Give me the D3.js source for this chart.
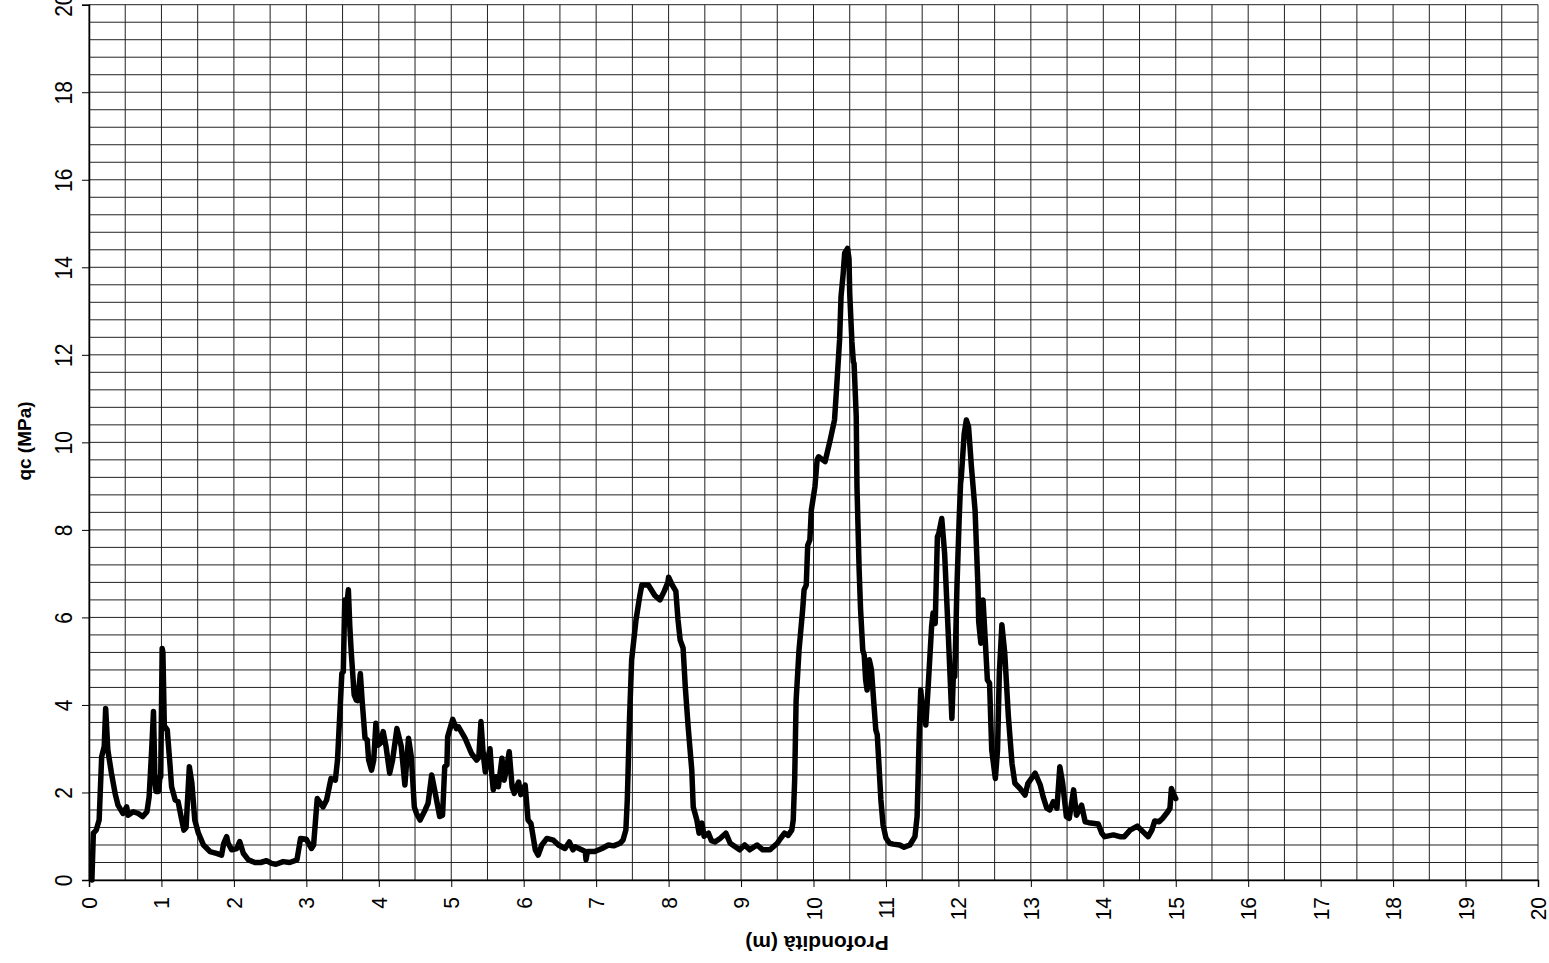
<!DOCTYPE html>
<html>
<head>
<meta charset="utf-8">
<script src="https://cdn.jsdelivr.net/npm/d3@7"></script>
<style>
  body{margin:0;background:#fff;}
  svg{display:block;}
</style>
</head>
<body>
<svg></svg>
<script>
// CPT trace: depth (m) and cone resistance qc (MPa)
var depth = [0.04,0.06,0.10,0.14,0.175,0.21,0.23,0.26,0.31,0.36,0.40,0.47,0.52,0.54,0.61,0.68,0.74,0.80,0.83,0.865,
  0.89,0.91,0.925,0.96,0.98,0.99,1.01,1.02,1.04,1.05,1.08,1.12,1.14,1.19,1.23,1.28,1.31,1.34,1.385,1.42,
  1.46,1.51,1.58,1.67,1.76,1.83,1.86,1.90,1.92,1.97,2.04,2.08,2.13,2.20,2.29,2.37,2.45,2.52,2.58,2.68,
  2.77,2.87,2.92,3.00,3.07,3.10,3.15,3.23,3.28,3.34,3.40,3.43,3.46,3.49,3.51,3.53,3.56,3.58,3.60,3.62,
  3.66,3.69,3.71,3.745,3.77,3.81,3.84,3.86,3.90,3.93,3.96,3.99,4.02,4.06,4.10,4.15,4.19,4.25,4.31,4.36,
  4.41,4.45,4.49,4.52,4.57,4.64,4.68,4.73,4.78,4.84,4.88,4.91,4.94,4.95,5.02,5.07,5.10,5.19,5.28,5.35,
  5.38,5.41,5.44,5.47,5.50,5.535,5.56,5.58,5.62,5.65,5.70,5.73,5.76,5.80,5.84,5.87,5.93,5.96,6.02,6.06,
  6.10,6.16,6.20,6.25,6.32,6.41,6.48,6.57,6.63,6.68,6.71,6.80,6.85,6.86,6.88,6.98,7.08,7.17,7.24,7.33,
  7.37,7.41,7.43,7.46,7.49,7.55,7.60,7.63,7.72,7.81,7.88,7.94,7.99,8.00,8.05,8.10,8.13,8.16,8.20,8.23,
  8.27,8.32,8.34,8.39,8.42,8.46,8.49,8.55,8.59,8.64,8.71,8.79,8.85,8.92,8.98,9.05,9.12,9.22,9.30,9.40,
  9.50,9.55,9.60,9.65,9.70,9.72,9.74,9.76,9.80,9.85,9.87,9.90,9.92,9.95,9.97,10.02,10.05,10.07,10.16,10.23,
  10.29,10.32,10.36,10.38,10.41,10.43,10.47,10.49,10.50,10.53,10.55,10.56,10.59,10.60,10.63,10.65,10.68,10.70,10.72,10.74,
  10.77,10.80,10.83,10.86,10.88,10.90,10.93,10.96,11.00,11.05,11.10,11.19,11.25,11.33,11.40,11.43,11.46,11.48,11.50,11.55,
  11.58,11.63,11.65,11.68,11.71,11.73,11.77,11.81,11.86,11.91,11.93,11.95,11.98,12.01,12.03,12.04,12.08,12.11,12.14,12.18,
  12.23,12.27,12.28,12.31,12.34,12.37,12.40,12.43,12.46,12.51,12.54,12.565,12.60,12.64,12.69,12.74,12.78,12.85,12.92,12.96,
  13.06,13.13,13.17,13.22,13.26,13.31,13.36,13.40,13.44,13.49,13.53,13.59,13.63,13.70,13.75,13.80,13.93,13.98,14.02,14.14,
  14.23,14.29,14.37,14.47,14.55,14.62,14.67,14.71,14.77,14.82,14.89,14.92,14.94,14.96,15.00];
var qc = [0,1.07,1.14,1.37,2.82,3.05,3.92,2.97,2.44,1.98,1.71,1.52,1.67,1.48,1.56,1.52,1.45,1.56,1.90,2.97,
  3.85,2.28,2.02,2.02,2.36,2.36,5.29,5.20,3.50,3.50,3.43,2.59,2.13,1.83,1.79,1.37,1.14,1.20,2.59,2.21,
  1.37,1.07,0.80,0.65,0.61,0.57,0.84,0.99,0.84,0.69,0.72,0.88,0.61,0.46,0.40,0.40,0.44,0.38,0.36,0.42,
  0.40,0.46,0.95,0.93,0.72,0.80,1.86,1.67,1.83,2.32,2.28,2.74,3.73,4.72,4.76,6.40,6.30,6.63,5.79,5.20,
  4.23,4.11,4.10,4.72,4.10,3.24,3.20,2.74,2.51,2.74,3.58,3.08,3.12,3.39,3.05,2.44,2.74,3.46,3.05,2.17,
  3.24,2.80,1.67,1.52,1.37,1.60,1.75,2.40,1.98,1.45,1.48,2.59,2.63,3.27,3.67,3.46,3.50,3.24,2.89,2.74,
  2.80,3.62,2.90,2.47,2.74,3.00,2.40,2.06,2.36,2.13,2.78,2.28,2.51,2.93,2.13,1.98,2.24,1.95,2.17,1.37,
  1.29,0.69,0.57,0.80,0.95,0.91,0.80,0.72,0.87,0.69,0.76,0.69,0.65,0.46,0.65,0.65,0.72,0.80,0.78,0.84,
  0.91,1.14,1.83,3.66,5.03,5.94,6.47,6.74,6.74,6.50,6.40,6.60,6.80,6.92,6.74,6.60,5.94,5.48,5.30,4.42,
  3.50,2.51,1.67,1.37,1.07,1.30,1.00,1.07,0.90,0.87,0.95,1.07,0.84,0.76,0.69,0.80,0.69,0.80,0.69,0.69,
  0.84,0.96,1.07,1.02,1.14,1.37,2.28,4.10,5.25,6.17,6.63,6.74,7.65,7.77,8.45,8.99,9.60,9.67,9.56,10.05,
  10.51,11.27,12.34,13.33,13.86,14.32,14.43,14.20,13.40,12.30,11.84,11.80,10.58,8.99,7.08,6.17,5.25,5.14,4.57,4.34,
  5.03,4.80,4.10,3.43,3.32,2.74,1.83,1.26,0.96,0.84,0.82,0.80,0.75,0.80,0.99,1.45,3.35,4.34,4.00,3.54,
  4.34,5.79,6.10,5.86,7.84,7.92,8.26,7.46,5.63,3.69,4.65,4.65,6.70,8.22,9.06,9.20,10.20,10.51,10.36,9.44,
  8.45,6.70,5.90,5.41,6.40,5.50,4.57,4.50,2.97,2.32,2.97,4.72,5.83,5.18,3.73,2.66,2.21,2.09,1.94,2.21,
  2.44,2.17,1.90,1.64,1.60,1.79,1.64,2.59,2.20,1.45,1.41,2.06,1.48,1.71,1.33,1.31,1.28,1.07,0.99,1.03,
  0.99,0.99,1.14,1.23,1.10,0.99,1.14,1.35,1.33,1.41,1.56,1.64,2.09,2.00,1.86];

var xTicks = d3.range(0, 21, 1);
var yTicks = d3.range(0, 21, 2);
var xGrid = d3.range(0, 20.001, 0.5);
var yGrid = d3.range(0, 51).map(function(i){ return i*0.4; });

var xTitle = "Profondità (m)";
var yTitle = "qc (MPa)";

function draw(){
  var width = 1549, height = 963;
  var svg = d3.select("svg").attr("width", width).attr("height", height);

  var x = d3.scaleLinear().domain([0,20]).range([89,1538]);
  var y = d3.scaleLinear().domain([0,20]).range([880,4.7]);

  // grid
  svg.append("g").selectAll("line.v")
    .data(xGrid).enter().append("line")
    .attr("x1", function(d){return x(d);}).attr("x2", function(d){return x(d);})
    .attr("y1", y(0)).attr("y2", y(20))
    .attr("stroke", "#222").attr("stroke-width", 1);
  svg.append("g").selectAll("line.h")
    .data(yGrid).enter().append("line")
    .attr("x1", x(0)).attr("x2", x(20))
    .attr("y1", function(d){return y(d);}).attr("y2", function(d){return y(d);})
    .attr("stroke", "#222").attr("stroke-width", 1);

  // axes
  var xAxis = svg.append("g")
    .attr("transform", "translate(0," + y(0) + ")")
    .call(d3.axisBottom(x).tickValues(xTicks).tickSize(7).tickFormat(d3.format("d")));
  var yAxis = svg.append("g")
    .attr("transform", "translate(" + x(0) + ",0)")
    .call(d3.axisLeft(y).tickValues(yTicks).tickSize(7).tickFormat(d3.format("d")));

  [xAxis, yAxis].forEach(function(g){
    g.select(".domain").attr("stroke", "#000").attr("stroke-width", 1.5);
    g.selectAll(".tick line").attr("stroke", "#000").attr("stroke-width", 1);
  });

  xAxis.selectAll(".tick text")
    .attr("font-family", "Liberation Sans, Arial, sans-serif")
    .attr("font-size", 21).attr("fill", "#000")
    .attr("x", 0).attr("y", 0).attr("dy", null)
    .attr("text-anchor", "end")
    .attr("transform", "translate(7.5,17) rotate(-90) scale(1,1.05)");

  yAxis.selectAll(".tick text")
    .attr("font-family", "Liberation Sans, Arial, sans-serif")
    .attr("font-size", 21).attr("fill", "#000")
    .attr("x", 0).attr("y", 0).attr("dy", null)
    .attr("text-anchor", "middle")
    .attr("transform", "translate(-17,0) rotate(-90) scale(1,1.15)");

  // curve
  var pts = depth.map(function(d,i){ return [d, qc[i]]; });
  var line = d3.line().x(function(d){return x(d[0]);}).y(function(d){return y(d[1]);});
  svg.append("path")
    .attr("d", line(pts))
    .attr("fill", "none")
    .attr("stroke", "#000")
    .attr("stroke-width", 5.5)
    .attr("stroke-linejoin", "round")
    .attr("stroke-linecap", "round");

  // titles
  svg.append("text")
    .attr("transform", "translate(817,936) rotate(180)")
    .attr("text-anchor", "middle")
    .attr("font-family", "Liberation Sans, Arial, sans-serif")
    .attr("font-weight", "bold").attr("font-size", 21)
    .text(xTitle);

  svg.append("text")
    .attr("transform", "translate(31,441) rotate(-90)")
    .attr("text-anchor", "middle")
    .attr("font-family", "Liberation Sans, Arial, sans-serif")
    .attr("font-weight", "bold").attr("font-size", 19)
    .text(yTitle);
}

draw();
</script>
</body>
</html>
